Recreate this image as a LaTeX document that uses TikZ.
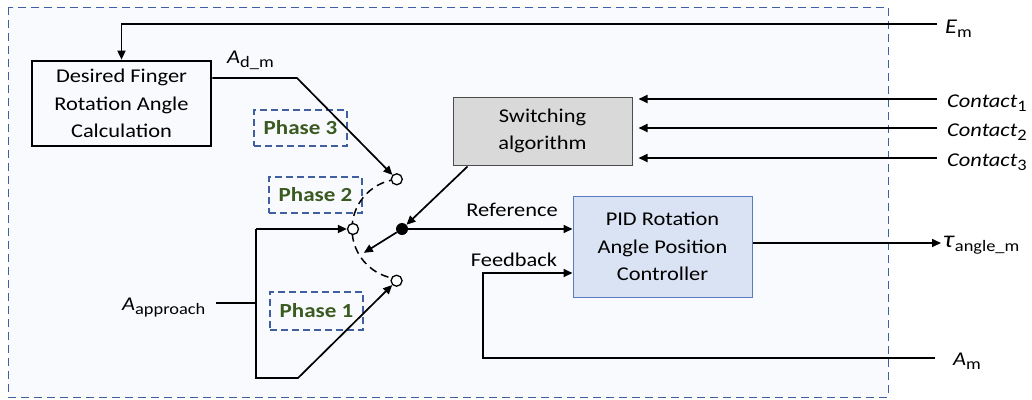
\documentclass[tikz,border=0pt]{standalone}
\usepackage{fontspec}
\setmainfont{Carlito}[FakeStretch=1.15]
\usetikzlibrary{arrows.meta,calc}
\definecolor{bgblue}{HTML}{F8FAFD}
\definecolor{dashblue}{HTML}{3F5FA0}
\definecolor{swgray}{HTML}{D9D9D9}
\definecolor{pidfill}{HTML}{DAE3F3}
\definecolor{pidborder}{HTML}{5B7BC0}
\definecolor{phasegreen}{HTML}{3A5A20}
\newcommand{\sbx}[1]{\raisebox{-4pt}{\fontsize{16}{16}\selectfont #1}}
\begin{document}
\begin{tikzpicture}[x=1pt,y=-1pt,
  font=\fontsize{19.5}{27.5}\selectfont,
  sig/.style={line width=1.7pt},
  arr/.style={line width=1.7pt,-{Triangle[length=9pt,width=8pt]}},
  phasebox/.style={draw=dashblue,dashed,dash pattern=on 7pt off 4pt,line width=1.4pt,minimum width=93pt,minimum height=36pt,inner sep=0pt,font=\fontsize{20}{24}\selectfont\bfseries,text=phasegreen},
  swc/.style={circle,draw,line width=1.3pt,fill=white,minimum size=11pt,inner sep=0pt},
  lbl/.style={inner sep=0pt,anchor=base west}
]
\useasboundingbox (0,0) rectangle (1032,399);
\fill[white] (0,0) rectangle (1032,399);
\draw[draw=dashblue,fill=bgblue,line width=1pt,dash pattern=on 8pt off 5pt] (8,7) rectangle (888,397);

% blocks
\node[draw,line width=2.7pt,minimum width=179pt,minimum height=85pt,align=center,inner sep=0pt] (dfrac) at (121.5,103.5) {Desired Finger\\Rotation Angle\\Calculation};
\node[draw=gray!60!black,fill=swgray,line width=1pt,minimum width=179pt,minimum height=68pt,align=center,inner sep=0pt] (sw) at (542.5,131) {Switching\\algorithm};
\node[draw=pidborder,fill=pidfill,line width=1pt,minimum width=179pt,minimum height=101pt,align=center,inner sep=0pt] (pid) at (662.5,246.5) {PID Rotation\\Angle Position\\Controller};

% phase boxes
\node[phasebox] (ph3) at (300.5,128) {Phase 3};
\node[phasebox] (ph2) at (315.5,195) {Phase 2};
\node[phasebox,minimum height=38pt] (ph1) at (316.5,311) {Phase 1};

% switch
\coordinate (dotc) at (402,229);
\draw[line width=1.5pt,dashed,dash pattern=on 8pt off 5pt] ($(dotc)+(264:50)$) arc[start angle=264,end angle=96,radius=50];
\node[swc] (c3) at ($(dotc)+(264:50)$) {};
\node[swc] (c2) at ($(dotc)+(180:49)$) {};
\node[swc] (c1) at ($(dotc)+(96:52)$) {};
\node[circle,fill=black,minimum size=12pt,inner sep=0pt] (dot) at (dotc) {};
\coordinate (armend) at ($(dotc)+(148:45)$);
\draw[arr] (dot) -- (armend);

% external labels
\node[lbl] (em) at (945,33) {\textit{\fontsize{21}{21}\selectfont E}\sbx{m}};
\node[lbl] (ct1) at (947,107) {\textit{Contact}\sbx{1}};
\node[lbl] (ct2) at (947,136) {\textit{Contact}\sbx{2}};
\node[lbl] (ct3) at (947,166) {\textit{Contact}\sbx{3}};
\node[lbl] (tau) at (943,247) {\textit{\fontsize{24}{24}\selectfont τ}\sbx{angle\_m}};
\node[lbl] (am) at (953,365) {\textit{A}\sbx{m}};
\node[lbl] (adm) at (227,63) {\textit{A}\sbx{d\_m}};
\node[lbl] (aapp) at (122,310) {\textit{A}\sbx{approach}};
\node[inner sep=0pt,anchor=base] (reflbl) at (512,216) {Reference};
\node[inner sep=0pt,anchor=base] (fblbl) at (514,266) {Feedback};

% coordinates for free ends
\coordinate (emend) at (937,24);
\coordinate (c1end) at (937,99);
\coordinate (c2end) at (937,128);
\coordinate (c3end) at (937,158);
\coordinate (tauend) at (941,243);
\coordinate (amend) at (935,358);
\coordinate (appstart) at (216,303);

% connectors
\draw[arr] (emend) -- (dfrac.north |- emend) -- (dfrac.north);
\draw[arr] (dfrac.east |- 0,78) -- (297,78) -- (c3);
\draw[arr] (c1end) -- ([xshift=6pt]sw.east |- c1end);
\draw[arr] (c2end) -- ([xshift=6pt]sw.east |- c2end);
\draw[arr] (c3end) -- ([xshift=6pt]sw.east |- c3end);
\draw[arr] ($(sw.south west)+(15,1)$) -- (dot);
\draw[arr] (dot) -- (pid.west |- dot);
\draw[arr] (amend) -- (483,358) -- (483,273) -- (pid.west |- 0,273);
\draw[arr] (pid.east |- tauend) -- (tauend);
\draw[sig] (appstart) -- (256,303);
\draw[arr] (256,229) -- (c2);
\draw[arr] (256,229) -- (256,378) -- (298,378) -- (c1);
\end{tikzpicture}
\end{document}
